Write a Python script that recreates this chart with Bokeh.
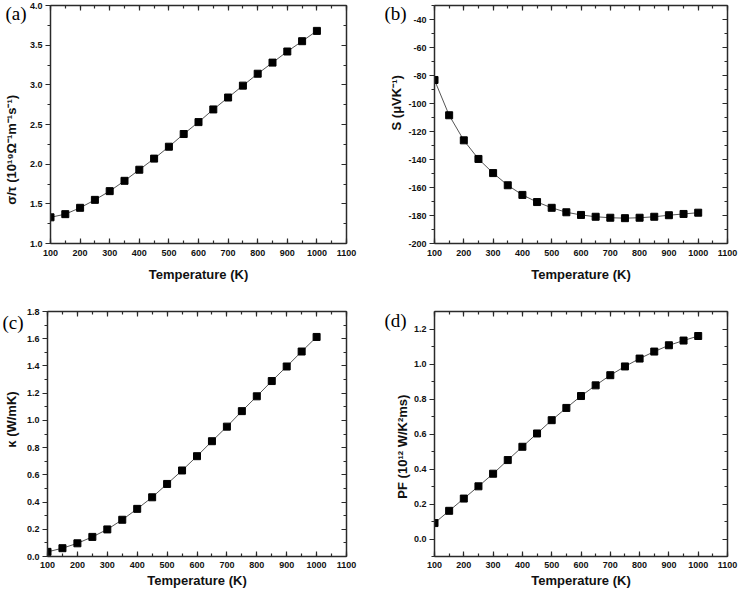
from bokeh.plotting import figure
from bokeh.models import LinearAxis, Range1d, SingleIntervalTicker, NumeralTickFormatter, Title
from bokeh.layouts import column, row
from bokeh.embed import file_html
from bokeh.resources import INLINE

temperature = [100, 150, 200, 250, 300, 350, 400, 450, 500, 550,
               600, 650, 700, 750, 800, 850, 900, 950, 1000]
sigma_tau = [1.33, 1.37, 1.45, 1.55, 1.66, 1.79, 1.93, 2.07, 2.22, 2.38,
             2.53, 2.69, 2.84, 2.99, 3.14, 3.28, 3.42, 3.55, 3.68]
seebeck = [-83.2, -108.4, -126.3, -139.6, -149.7, -158.4, -165.3, -170.4, -174.5, -177.7,
           -179.6, -180.9, -181.6, -181.9, -181.6, -180.9, -179.8, -178.9, -178.0]
kappa = [0.034, 0.061, 0.097, 0.144, 0.199, 0.270, 0.350, 0.435, 0.533, 0.632,
         0.737, 0.847, 0.954, 1.068, 1.177, 1.289, 1.396, 1.506, 1.613]
power_factor = [0.091, 0.161, 0.231, 0.301, 0.373, 0.451, 0.527, 0.603, 0.679, 0.749,
                0.817, 0.878, 0.936, 0.986, 1.031, 1.071, 1.107, 1.134, 1.160]

x_title = "Temperature (K)"
y_titles = ["σ/τ (10¹⁹Ω⁻¹m⁻¹s⁻¹)", "S (μVK⁻¹)", "κ (W/mK)", "PF (10¹² W/K²ms)"]
letters = ["(a)", "(b)", "(c)", "(d)"]

AX_COLOR = "#2a2a2a"
SANS = "Liberation Sans"
NBSP = "\u00a0"


def style_axis(ax, inward, show_labels):
    ax.axis_line_color = AX_COLOR
    ax.axis_line_width = 1.5
    ax.major_tick_line_color = AX_COLOR
    ax.minor_tick_line_color = AX_COLOR
    ax.major_tick_line_width = 1.2
    ax.minor_tick_line_width = 1.2
    if inward:
        ax.major_tick_in, ax.major_tick_out = 5, 0
        ax.minor_tick_in, ax.minor_tick_out = 3, 0
    else:
        ax.major_tick_in, ax.major_tick_out = 0, 5
        ax.minor_tick_in, ax.minor_tick_out = 0, 3
    ax.major_label_text_font = SANS
    ax.major_label_text_font_style = "bold"
    ax.major_label_text_color = "#111111"
    ax.major_label_text_font_size = "9px"
    if not show_labels:
        ax.major_label_text_color = None
        ax.major_label_text_font_size = "1px"
        ax.major_label_standoff = 0
    ax.axis_label_text_font = SANS
    ax.axis_label_text_font_style = "bold"
    ax.axis_label_text_font_size = "13px"
    ax.axis_label_text_color = "#111111"


def panel(yvals, ylabel, ymin, ymax, yint, yfmt, width, height,
          bl, br, bt, bb, ylab_stand, x_stand, xlab_stand, letter, letter_kw):
    p = figure(width=width, height=height, output_backend="svg", toolbar_location=None,
               x_range=Range1d(100, 1100), y_range=Range1d(ymin, ymax),
               x_axis_type=None, y_axis_type=None,
               min_border_left=bl, min_border_right=br,
               min_border_top=bt, min_border_bottom=bb)
    p.outline_line_color = None
    p.background_fill_color = "white"
    p.border_fill_color = "white"

    def xt():
        return SingleIntervalTicker(interval=100, num_minor_ticks=2)

    def yt():
        return SingleIntervalTicker(interval=yint, num_minor_ticks=2)

    # top axis first so that it sits on the frame edge
    top = LinearAxis(ticker=xt())
    style_axis(top, True, False)
    p.add_layout(top, "above")

    p.add_layout(Title(text=letter, align="left", vertical_align="bottom",
                       text_font="Liberation Serif", text_font_size="19px",
                       text_font_style="normal", text_color="black", **letter_kw), "above")

    bottom = LinearAxis(ticker=xt(), formatter=NumeralTickFormatter(format="0"))
    style_axis(bottom, True, True)
    bottom.axis_label = x_title
    bottom.major_label_standoff = x_stand
    bottom.axis_label_standoff = xlab_stand
    p.add_layout(bottom, "below")

    left = LinearAxis(ticker=yt(), formatter=NumeralTickFormatter(format=yfmt))
    style_axis(left, False, True)
    left.axis_label = ylabel
    left.major_label_standoff = 3
    left.axis_label_standoff = ylab_stand
    p.add_layout(left, "left")

    right = LinearAxis(ticker=yt())
    style_axis(right, True, False)
    p.add_layout(right, "right")

    p.line(temperature, yvals, line_color="#555555", line_width=1)
    p.scatter(temperature, yvals, marker="square", size=7,
              fill_color="black", line_color="black")
    return p


pa = panel(sigma_tau, y_titles[0] + NBSP * 14, 1.0, 4.0, 0.5, "0.0",
           368, 288, 46, 22, 5, 45, 8, 6, 8,
           letters[0], dict(offset=-45, standoff=-36))
pb = panel(seebeck, NBSP * 12 + y_titles[1], -200, -30, 20, "0",
           372, 288, 66, 13, 5, 45, 1, 6, 8,
           letters[1], dict(offset=-50, standoff=-36))
pc = panel(kappa, NBSP * 8 + y_titles[2], 0.0, 1.8, 0.2, "0.0",
           368, 302, 46, 22, 23, 33, 5, 5, 2,
           letters[2], dict(offset=-45, standoff=-43))
pd = panel(power_factor, y_titles[3] + NBSP * 7, -0.1, 1.3, 0.2, "0.0",
           372, 302, 66, 13, 23, 33, 1, 5, 2,
           letters[3], dict(offset=-50, standoff=-39))

layout = column(row(pa, pb), row(pc, pd))
open("out.html", "w").write(file_html(layout, INLINE))
